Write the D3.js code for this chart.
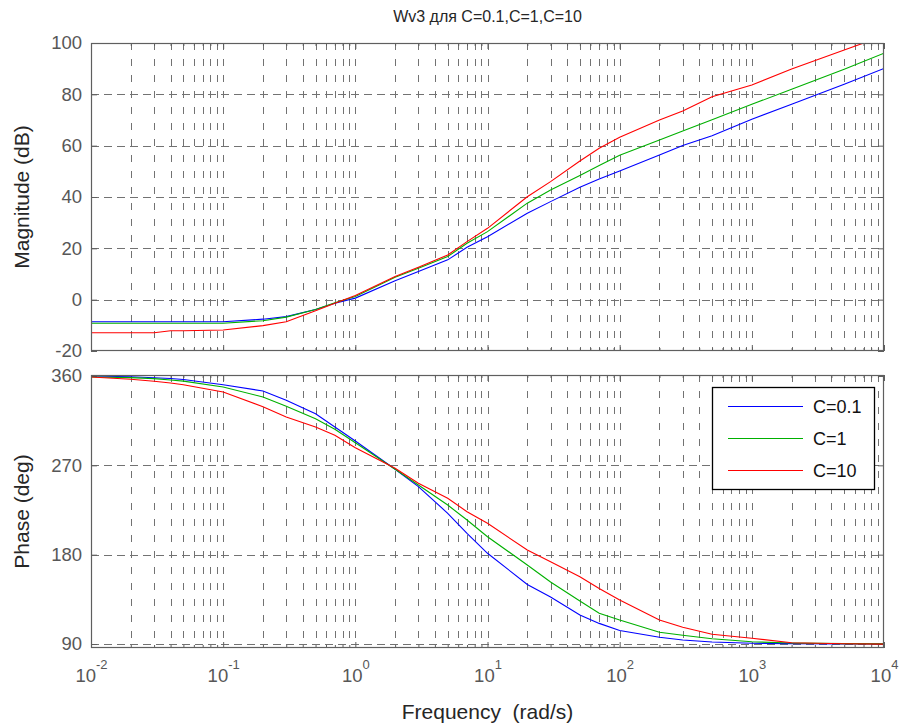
<!DOCTYPE html>
<html><head><meta charset="utf-8">
<script src="https://cdn.jsdelivr.net/npm/d3@7"></script>
<style>
html,body{margin:0;padding:0;background:#fff;}
svg{display:block;font-family:"Liberation Sans",Arial,Helvetica,sans-serif;}
</style></head>
<body>
<script>
// ---- data ----
const titleText = "Wv3 для C=0.1,C=1,C=10";
const seriesNames = ["C=0.1", "C=1", "C=10"];
const seriesColors = ["#0000ff", "#00b000", "#ff0000"];
const freq = [0.01,0.02,0.03,0.04,0.05,0.1,0.2,0.3,0.5,0.7,1,2,3,5,7,10,20,30,50,70,100,200,300,500,1000,2000,5000,10000];
const magC01 = [-8.6,-8.6,-8.6,-8.6,-8.6,-8.6,-7.6,-6.6,-3.8,-1.4,0.6,7.4,11.0,15.5,20.4,24.5,33.7,38.2,43.8,47.0,50.1,56.4,60.1,63.9,70.3,76.1,83.9,90.1];
const magC1  = [-9.2,-9.2,-9.2,-9.2,-9.2,-9.2,-8.2,-6.8,-3.8,-1.2,1.2,8.7,12.2,16.8,22.0,26.5,37.6,42.7,48.4,52.3,56.3,62.2,65.7,70.1,76.1,82.0,89.8,96.0];
const magC10 = [-12.9,-12.9,-12.9,-12.1,-12.1,-11.8,-10.1,-8.6,-4.3,-1.4,1.6,9.0,12.6,17.4,22.6,27.8,40.1,46.0,54.0,59.0,63.3,70.0,73.5,79.1,83.6,89.9,97.3,102.8];
const phC01 = [360,359.3,358.3,357.5,356.5,351.2,344.9,335.5,322,308.6,294.5,266,248.5,221.7,201.5,181.4,150,137.4,119.2,110.8,103.7,96.9,94.1,92.1,90.8,90.4,90.2,90.1];
const phC1  = [359,358.4,357.3,356,354.8,348.9,338.8,329.5,317,306.3,292.8,266,250.2,230,214.9,198.1,169.6,152.5,133.3,121.1,114.2,101.8,98.8,95.3,92.3,91,90.4,90.2];
const phC10 = [359,356.7,354.7,353,351.2,343.9,329.1,318.7,308.6,300.3,287.8,267,252,236.8,223.3,211.6,184.7,172.9,157.8,146,134.3,114.2,106.9,99.8,95.8,91.3,90.3,89.9];
const magTicks = [-20,0,20,40,60,80,100];
const phaseTicks = [90,180,270,360];
const xMajor = [1e-2,1e-1,1e0,1e1,1e2,1e3,1e4];
const xExp = ["-2","-1","0","1","2","3","4"];
const xLabel = "Frequency  (rad/s)";
const yLabelMag = "Magnitude (dB)";
const yLabelPh = "Phase (deg)";

// ---- layout ----
const W = 903, H = 726;
const L = 91, R = 884;
const magTop = 43, magBot = 351, phTop = 375, phBot = 648;
const boxColor = "#5f5f5f", gridColor = "#727272", tickTextColor = "#575757", labelColor = "#262626";

const svg = d3.select("body").append("svg").attr("width", W).attr("height", H);

const x = d3.scaleLog().domain([1e-2, 1e4]).range([L, R]);
const yMag = d3.scaleLinear().domain([-20, 100]).range([magBot, magTop]);
const yPh = d3.scaleLinear().domain([86, 361]).range([phBot, phTop]);

const xMinor = [];
for (let k = -2; k <= 3; k++) for (let m = 2; m <= 9; m++) xMinor.push(m * Math.pow(10, k));
const xAll = xMajor.concat(xMinor);

function panel(y, yTicks, top, bot, id) {
  const g = svg.append("g");
  g.append("rect").attr("x", L).attr("y", top).attr("width", R - L).attr("height", bot - top).attr("fill", "#fff");
  g.append("g").selectAll("line").data(xAll.filter(v => v > 1e-2 && v < 1e4)).join("line")
    .attr("x1", d => Math.round(x(d)) + 0.5).attr("x2", d => Math.round(x(d)) + 0.5)
    .attr("y1", top).attr("y2", bot)
    .attr("stroke", gridColor).attr("stroke-width", 1).attr("stroke-dasharray", "7,9");
  g.append("g").selectAll("line").data(yTicks.filter(v => Math.abs(y(v) - top) > 1 && Math.abs(y(v) - bot) > 1)).join("line")
    .attr("x1", L).attr("x2", R)
    .attr("y1", d => Math.round(y(d)) + 0.5).attr("y2", d => Math.round(y(d)) + 0.5)
    .attr("stroke", gridColor).attr("stroke-width", 1).attr("stroke-dasharray", "8,5");
  const tickStyle = sel => { sel.select(".domain").remove(); sel.selectAll(".tick line").attr("stroke", boxColor); sel.selectAll(".tick text").remove(); };
  g.append("g").attr("transform", `translate(0,${bot})`).call(d3.axisTop(x).tickValues(xMajor).tickSize(6).tickFormat("")).call(tickStyle);
  g.append("g").attr("transform", `translate(0,${bot})`).call(d3.axisTop(x).tickValues(xMinor).tickSize(3).tickFormat("")).call(tickStyle);
  g.append("g").attr("transform", `translate(0,${top})`).call(d3.axisBottom(x).tickValues(xMajor).tickSize(6).tickFormat("")).call(tickStyle);
  g.append("g").attr("transform", `translate(0,${top})`).call(d3.axisBottom(x).tickValues(xMinor).tickSize(3).tickFormat("")).call(tickStyle);
  g.append("g").attr("transform", `translate(${L},0)`).call(d3.axisRight(y).tickValues(yTicks).tickSize(6).tickFormat("")).call(tickStyle);
  g.append("g").attr("transform", `translate(${R},0)`).call(d3.axisLeft(y).tickValues(yTicks).tickSize(6).tickFormat("")).call(tickStyle);
  const ya = g.append("g").attr("transform", `translate(${L},0)`)
    .call(d3.axisLeft(y).tickValues(yTicks).tickSize(0).tickPadding(9).tickFormat(d => String(d)));
  ya.select(".domain").remove();
  ya.selectAll(".tick text").attr("font-size", 18.5).attr("fill", tickTextColor)
    .attr("font-family", '"Liberation Sans",Arial,Helvetica,sans-serif');
  svg.append("clipPath").attr("id", id).append("rect").attr("x", L).attr("y", top).attr("width", R - L).attr("height", bot - top);
  return g;
}

panel(yMag, magTicks, magTop, magBot, "clipMag");
panel(yPh, phaseTicks, phTop, phBot, "clipPh");

const magSeries = [magC01, magC1, magC10];
const phSeries = [phC01, phC1, phC10];

const lineMag = d3.line().x((d, i) => x(freq[i])).y(d => yMag(d));
const linePh = d3.line().x((d, i) => x(freq[i])).y(d => yPh(d));

svg.append("g").attr("clip-path", "url(#clipMag)").selectAll("path").data(magSeries).join("path")
  .attr("d", lineMag).attr("fill", "none").attr("stroke", (d, i) => seriesColors[i]).attr("stroke-width", 1.1);
svg.append("g").attr("clip-path", "url(#clipPh)").selectAll("path").data(phSeries).join("path")
  .attr("d", linePh).attr("fill", "none").attr("stroke", (d, i) => seriesColors[i]).attr("stroke-width", 1.1);

[[magTop, magBot], [phTop, phBot]].forEach(([t, b]) => {
  svg.append("rect").attr("x", L + 0.5).attr("y", t + 0.5).attr("width", R - L - 1).attr("height", b - t - 1)
    .attr("fill", "none").attr("stroke", boxColor).attr("stroke-width", 1.2);
});

const xa = svg.append("g").attr("transform", `translate(0,${phBot})`)
  .call(d3.axisBottom(x).tickValues(xMajor).tickSize(0).tickFormat(""));
xa.select(".domain").remove();
xa.selectAll(".tick").each(function(d, i) {
  const t = d3.select(this).append("text").attr("y", 34).attr("text-anchor", "middle")
    .attr("fill", tickTextColor).attr("font-size", 18.5)
    .attr("font-family", '"Liberation Sans",Arial,Helvetica,sans-serif');
  t.append("tspan").text("10");
  t.append("tspan").attr("dy", -13).attr("font-size", 13).text(xExp[i]);
});

const lg = svg.append("g");
lg.append("rect").attr("x", 712.5).attr("y", 387.5).attr("width", 162).attr("height", 102)
  .attr("fill", "#fff").attr("stroke", "#000").attr("stroke-width", 1.3);
seriesNames.forEach((n, i) => {
  const yy = 406.5 + i * 32;
  lg.append("line").attr("x1", 728).attr("x2", 803).attr("y1", yy).attr("y2", yy)
    .attr("stroke", seriesColors[i]).attr("stroke-width", 1.1);
  lg.append("text").attr("x", 813).attr("y", yy).attr("dy", "0.36em").attr("font-size", 18)
    .attr("fill", "#111").text(n);
});

svg.append("text").attr("x", (L + R) / 2).attr("y", 22).attr("text-anchor", "middle")
  .attr("font-size", 16).attr("fill", labelColor).text(titleText);
svg.append("text").attr("x", (L + R) / 2).attr("y", 719).attr("text-anchor", "middle")
  .attr("font-size", 21).attr("fill", labelColor).style("white-space", "pre").text(xLabel);
svg.append("text").attr("transform", `translate(29,${(magTop + magBot) / 2}) rotate(-90)`).attr("text-anchor", "middle")
  .attr("font-size", 21).attr("fill", labelColor).text(yLabelMag);
svg.append("text").attr("transform", `translate(29,${(phTop + phBot) / 2}) rotate(-90)`).attr("text-anchor", "middle")
  .attr("font-size", 21).attr("fill", labelColor).text(yLabelPh);
</script>
</body></html>
